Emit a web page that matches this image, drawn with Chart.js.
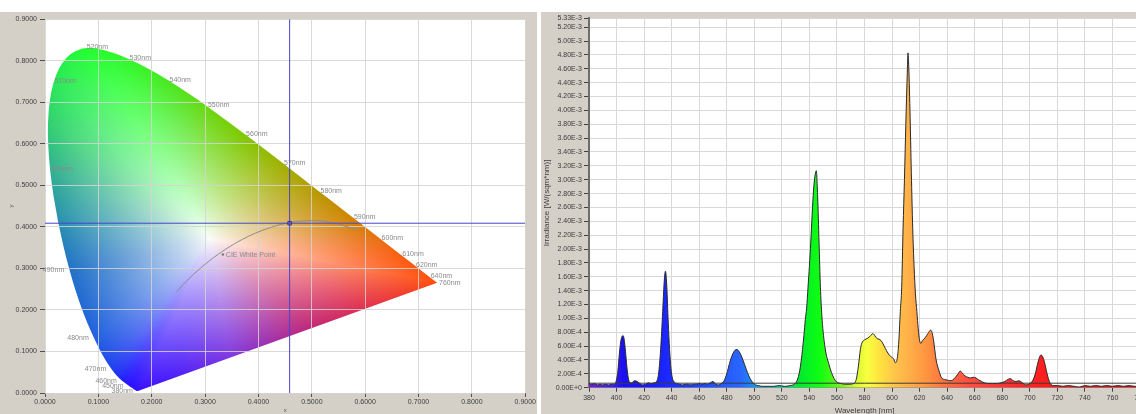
<!DOCTYPE html>
<html>
<head>
<meta charset="utf-8">
<script src="https://cdn.jsdelivr.net/npm/chart.js@4/dist/chart.umd.min.js"></script>
<style>
html, body { margin: 0; padding: 0; background: #fff; width: 1136px; height: 414px; overflow: hidden; }
.panel { position: absolute; top: 12px; height: 402px; background: #d4d0c8; }
#cieBox { left: 0; width: 537px; }
#specBox { left: 541px; width: 620px; }
</style>
</head>
<body>
<div id="cieBox" class="panel"><canvas id="cieChart" width="537" height="402"></canvas></div>
<div id="specBox" class="panel"><canvas id="specChart" width="620" height="402"></canvas></div>
<script>
// ---------- CIE 1931 diagram ----------
const locusWl = [380,385,390,395,400,405,410,415,420,425,430,435,440,445,450,455,460,465,470,475,480,485,490,495,500,505,510,515,520,525,530,535,540,545,550,555,560,565,570,575,580,585,590,595,600,605,610,615,620,625,630,635,640,645,650,660,680,700,760];
const locusX = [0.1741,0.1740,0.1738,0.1736,0.1733,0.1730,0.1726,0.1721,0.1714,0.1703,0.1689,0.1669,0.1644,0.1611,0.1566,0.1510,0.1440,0.1355,0.1241,0.1096,0.0913,0.0687,0.0454,0.0235,0.0082,0.0039,0.0139,0.0389,0.0743,0.1142,0.1547,0.1929,0.2296,0.2658,0.3016,0.3373,0.3731,0.4087,0.4441,0.4788,0.5125,0.5448,0.5752,0.6029,0.6270,0.6482,0.6658,0.6801,0.6915,0.7006,0.7079,0.7140,0.7190,0.7230,0.7260,0.7300,0.7334,0.7347,0.7347];
const locusY = [0.0050,0.0050,0.0049,0.0049,0.0048,0.0048,0.0048,0.0048,0.0051,0.0058,0.0069,0.0086,0.0109,0.0138,0.0177,0.0227,0.0297,0.0399,0.0578,0.0868,0.1327,0.2007,0.2950,0.4127,0.5384,0.6548,0.7502,0.8120,0.8338,0.8262,0.8059,0.7816,0.7543,0.7243,0.6923,0.6589,0.6245,0.5896,0.5547,0.5202,0.4866,0.4544,0.4242,0.3965,0.3725,0.3514,0.3340,0.3197,0.3083,0.2993,0.2920,0.2859,0.2809,0.2770,0.2740,0.2700,0.2666,0.2653,0.2653];
const labelWl = [380,450,460,470,480,490,500,510,520,530,540,550,560,570,580,590,600,610,620,640,760];

const planckX = [0.2470,0.2501,0.2565,0.2637,0.2719,0.2807,0.2869,0.2952,0.3064,0.3135,0.3221,0.3325,0.3451,0.3608,0.3805,0.4053,0.4369,0.4476,0.4770,0.5267,0.5857];
const planckY = [0.2446,0.2489,0.2577,0.2675,0.2778,0.2884,0.2956,0.3048,0.3166,0.3237,0.3318,0.3411,0.3516,0.3636,0.3768,0.3907,0.4041,0.4074,0.4137,0.4133,0.3931];

const whitePoint = { x: 0.3333, y: 0.3333 };
const crossX = 0.4584;
const crossY = 0.4088;
const cieTicks = [0, 0.1, 0.2, 0.3, 0.4, 0.5, 0.6, 0.7, 0.8, 0.9];

// colour look of the diagram (border colours, purple line, white centre)
const edgeWl = [380,450,460,470,480,490,495,500,505,510,520,530,540,550,560,570,580,590,600,610,620,640,760];
const edgeColor = ['#3a10ff','#2a10ff','#2020ff','#2040f0','#2060e0','#2070c8','#2890b0','#30b090','#30d070','#28e858','#20ff30','#30f828','#48e820','#68d810','#80c800','#a0b000','#b89800','#d08400','#e87010','#f86010','#ff5810','#ff5010','#ff4c10'];
const purpleU = [0, 0.24, 0.42, 0.69, 0.865, 1];
const purpleColor = ['#ff4c10','#e03050','#c02878','#8038e0','#5020f8','#3a10ff'];
const diagramWhite = [0.31, 0.37];

// ---------- spectrum ----------
const wavelength = [380,382,384,386,388,390,392,394,396,398,399.5,401,402,403,404,404.8,405.5,406.5,407.5,408.5,409.5,411,413,415,417,419,421,423,425,427,429,430.5,432,433.5,434.5,435.5,436.5,437.5,438.5,439.5,440.5,442,444,446,448,450,452,454,456,458,460,462,464,466,468,470,472,474,476,478,480,482,484,486,487.5,489,491,493,495,497,499,501,503,506,510,514,518,522,526,529,531,532,533,534,535,536,537,538,539,540,541,542,543,544,545,546,547,548,549,550,552,554,556,558,560,563,566,569,572,574,575.5,577,578,580,582,584,586,587.5,589,590.5,592,593.5,595,597,599,601,602.5,604,605,606,607,608,609,610,611,611.6,612,613,614,615,616,617,618,619,620,621,622,624,626,628,629,630,632,634,636,638,640,642,644,646,648,649.5,651,653,655,657,659,661,663,665,667,670,673,676,679,682,684,686,688,690,692,694,696,698,700,702,704,706,708,709,710.5,712,713.5,715,717,720,724,728,732,736,740,744,748,752,756,760,764,768,772,776,780];
const irradiance = [6e-5,5e-5,6e-5,4e-5,5e-5,4e-5,5e-5,4e-5,5e-5,5e-5,8e-5,2.5e-4,4.8e-4,6.6e-4,7.4e-4,7.5e-4,7.0e-4,5.2e-4,3.0e-4,1.4e-4,8e-5,7e-5,1.0e-4,9e-5,6e-5,4e-5,5e-5,7e-5,6e-5,7e-5,9e-5,2.0e-4,5.5e-4,1.10e-3,1.50e-3,1.68e-3,1.45e-3,9.5e-4,5.5e-4,2.8e-4,1.4e-4,8e-5,6e-5,5e-5,4e-5,5e-5,5e-5,4e-5,5e-5,5e-5,6e-5,5e-5,6e-5,5e-5,7e-5,9e-5,5e-5,4e-5,6e-5,1.0e-4,2.0e-4,3.5e-4,4.7e-4,5.4e-4,5.5e-4,5.2e-4,4.4e-4,3.3e-4,2.2e-4,1.3e-4,7e-5,4e-5,3e-5,2e-5,2e-5,2e-5,3e-5,2e-5,3e-5,5e-5,1.0e-4,1.6e-4,2.5e-4,3.8e-4,5.5e-4,7.5e-4,9.8e-4,1.15e-3,1.45e-3,1.75e-3,2.10e-3,2.50e-3,2.85e-3,3.05e-3,3.13e-3,2.75e-3,2.10e-3,1.45e-3,1.05e-3,8.0e-4,5.0e-4,3.5e-4,2.2e-4,1.3e-4,8e-5,6e-5,5e-5,5e-5,6e-5,1.2e-4,3.0e-4,5.5e-4,6.4e-4,6.9e-4,7.1e-4,7.4e-4,7.8e-4,7.5e-4,7.1e-4,7.0e-4,6.8e-4,6.3e-4,5.7e-4,5.0e-4,4.5e-4,4.2e-4,3.6e-4,4.5e-4,7.0e-4,1.10e-3,1.45e-3,2.30e-3,3.00e-3,3.80e-3,4.50e-3,4.83e-3,4.70e-3,4.00e-3,3.10e-3,2.30e-3,1.75e-3,1.35e-3,1.10e-3,8.5e-4,6.8e-4,6.4e-4,6.8e-4,7.2e-4,7.8e-4,8.3e-4,8.0e-4,7.0e-4,4.0e-4,2.5e-4,1.4e-4,1.2e-4,1.1e-4,1.0e-4,1.1e-4,1.5e-4,2.0e-4,2.4e-4,2.1e-4,1.7e-4,1.5e-4,1.4e-4,1.5e-4,1.4e-4,1.1e-4,9e-5,7e-5,6e-5,6e-5,6e-5,7e-5,9e-5,1.2e-4,1.3e-4,1.0e-4,9e-5,1.0e-4,8e-5,5e-5,4e-5,6e-5,1.0e-4,2.0e-4,3.7e-4,4.7e-4,4.6e-4,3.8e-4,2.5e-4,1.3e-4,6e-5,3e-5,3e-5,2e-5,3e-5,2e-5,1e-5,3e-5,2e-5,3e-5,2e-5,3e-5,2e-5,3e-5,2e-5,3e-5,2e-5,2e-5];
const thresholdLevel = 6.5e-5;
const wlTicks = [380,400,420,440,460,480,500,520,540,560,580,600,620,640,660,680,700,720,740,760,780];
const irrTicks = [0,2e-4,4e-4,6e-4,8e-4,1e-3,1.2e-3,1.4e-3,1.6e-3,1.8e-3,2e-3,2.2e-3,2.4e-3,2.6e-3,2.8e-3,3e-3,3.2e-3,3.4e-3,3.6e-3,3.8e-3,4e-3,4.2e-3,4.4e-3,4.6e-3,4.8e-3,5e-3,5.2e-3,5.33e-3];

const gradWl = [380,395,405,430,470,490,505,520,532,548,562,574,582,592,602,612,625,640,655,680,705,780];
const gradColor = ['#7020d0','#4020f0','#1a10f0','#1a20ff','#2050ff','#2a66ff','#10a8f0','#00d890','#00e830','#10ff10','#70f020','#d8f830','#f8ff40','#ffe040','#ffc44a','#ffb048','#ff9440','#ff6c40','#ff5040','#ff3434','#ff2020','#e01010'];

// ---------- helpers ----------
const hex = h => [parseInt(h.slice(1, 3), 16), parseInt(h.slice(3, 5), 16), parseInt(h.slice(5, 7), 16)];
const mix = (a, b, t) => [a[0] + (b[0] - a[0]) * t, a[1] + (b[1] - a[1]) * t, a[2] + (b[2] - a[2]) * t];
function colorAt(xs, cs, v) {
  if (v <= xs[0]) return hex(cs[0]);
  for (let i = 1; i < xs.length; i++) {
    if (v <= xs[i]) return mix(hex(cs[i - 1]), hex(cs[i]), (v - xs[i - 1]) / (xs[i] - xs[i - 1]));
  }
  return hex(cs[cs.length - 1]);
}
const tickFont = { family: 'Liberation Sans', size: 7 };

// border polygon (chromaticity units) with a colour on every vertex
const verts = locusWl.map((wl, i) => ({ x: locusX[i], y: locusY[i], c: colorAt(edgeWl, edgeColor, wl) }));
const tip = verts[verts.length - 1], start = verts[0];
purpleU.slice(1, -1).forEach((u, j) => {
  verts.push({ x: tip.x + u * (start.x - tip.x), y: tip.y + u * (start.y - tip.y), c: hex(purpleColor[j + 1]) });
});

const RAYS = 2048;
const rayLen = new Float32Array(RAYS);
const rayCol = [];
for (let k = 0; k < RAYS; k++) {
  const th = (k + 0.5) / RAYS * 2 * Math.PI - Math.PI;
  const dx = Math.cos(th), dy = Math.sin(th);
  rayCol[k] = [255, 255, 255];
  for (let i = 0; i < verts.length; i++) {
    const a = verts[i], b = verts[(i + 1) % verts.length];
    const ex = b.x - a.x, ey = b.y - a.y;
    const den = dx * ey - dy * ex;
    if (Math.abs(den) < 1e-12) continue;
    const wx = a.x - diagramWhite[0], wy = a.y - diagramWhite[1];
    const t = (wx * ey - wy * ex) / den;
    const u = (wx * dy - wy * dx) / den;
    if (t > 0 && u >= 0 && u <= 1) { rayLen[k] = t; rayCol[k] = mix(a.c, b.c, u); break; }
  }
}

const LOCUS = 5;
const cieBackground = {
  id: 'cieBackground',
  beforeDraw(chart) {
    const { ctx, chartArea: a, scales } = chart;
    ctx.save();
    ctx.fillStyle = '#ffffff';
    ctx.fillRect(a.left, a.top, a.right - a.left, a.bottom - a.top);
    const w = Math.ceil(a.right - a.left), h = Math.ceil(a.bottom - a.top);
    const off = document.createElement('canvas');
    off.width = w; off.height = h;
    const octx = off.getContext('2d');
    const img = octx.createImageData(w, h);
    const cols = [], rows = [];
    for (let i = 0; i < w; i++) cols.push(scales.x.getValueForPixel(a.left + i + 0.5));
    for (let j = 0; j < h; j++) rows.push(scales.y.getValueForPixel(a.top + j + 0.5));
    const white = [252, 253, 250];
    for (let j = 0; j < h; j++) {
      for (let i = 0; i < w; i++) {
        const dx = cols[i] - diagramWhite[0], dy = rows[j] - diagramWhite[1];
        let k = Math.floor((Math.atan2(dy, dx) + Math.PI) / (2 * Math.PI) * RAYS);
        if (k >= RAYS) k = RAYS - 1;
        const s = Math.min(1, Math.hypot(dx, dy) / (rayLen[k] || 1));
        const c = mix(white, rayCol[k], Math.pow(s, 0.85));
        const p = (j * w + i) * 4;
        img.data[p] = c[0]; img.data[p + 1] = c[1]; img.data[p + 2] = c[2]; img.data[p + 3] = 255;
      }
    }
    octx.putImageData(img, 0, 0);
    // smooth outline through the locus points, straight line of purples
    const pts = chart.getDatasetMeta(LOCUS).data;
    ctx.beginPath();
    ctx.moveTo(pts[0].x, pts[0].y);
    for (let i = 1; i < pts.length - 1; i++) {
      const mx = (pts[i].x + pts[i + 1].x) / 2, my = (pts[i].y + pts[i + 1].y) / 2;
      ctx.quadraticCurveTo(pts[i].x, pts[i].y, mx, my);
    }
    ctx.lineTo(pts[pts.length - 1].x, pts[pts.length - 1].y);
    ctx.closePath();
    ctx.clip();
    ctx.drawImage(off, a.left, a.top);
    ctx.restore();
  }
};

const cieLabels = {
  id: 'cieLabels',
  afterDatasetsDraw(chart) {
    const { ctx } = chart;
    const pts = chart.getDatasetMeta(LOCUS).data;
    ctx.save();
    ctx.font = '7px "Liberation Sans"';
    ctx.fillStyle = '#8a8a8a';
    ctx.textBaseline = 'middle';
    labelWl.forEach(wl => {
      const p = pts[locusWl.indexOf(wl)];
      if (wl <= 490) { ctx.textAlign = 'right'; ctx.fillText(wl + 'nm', p.x - 5, p.y); }
      else { ctx.textAlign = 'left'; ctx.fillText(wl + 'nm', p.x + 2, p.y); }
    });
    const wp = chart.getDatasetMeta(3).data[0];
    ctx.textAlign = 'left';
    ctx.fillText('CIE White Point', wp.x + 3, wp.y);
    ctx.restore();
  }
};

new Chart(document.getElementById('cieChart'), {
  type: 'scatter',
  data: {
    datasets: [
      { data: [{ x: crossX, y: crossY }], pointStyle: 'rect', pointRadius: 2.5, borderColor: '#3030b0', backgroundColor: 'rgba(0,0,0,0)', borderWidth: 1 },
      { data: [{ x: crossX, y: 0 }, { x: crossX, y: 0.9 }], showLine: true, pointRadius: 0, borderColor: '#4646c8', borderWidth: 1 },
      { data: [{ x: 0, y: crossY }, { x: 0.9, y: crossY }], showLine: true, pointRadius: 0, borderColor: '#4646c8', borderWidth: 1 },
      { data: [whitePoint], pointRadius: 1.2, backgroundColor: '#777', borderWidth: 0 },
      { data: planckX.map((x, i) => ({ x, y: planckY[i] })), showLine: true, pointRadius: 0, borderColor: '#8c8c8c', borderWidth: 1, tension: 0.3 },
      { data: locusX.map((x, i) => ({ x, y: locusY[i] })), showLine: false, pointRadius: 0, borderWidth: 0 }
    ]
  },
  options: {
    responsive: false,
    animation: false,
    layout: { padding: { left: 0, top: 4, right: 9, bottom: 0 } },
    plugins: { legend: { display: false }, tooltip: { enabled: false } },
    scales: {
      x: {
        type: 'linear', min: 0, max: 0.9,
        afterBuildTicks: s => { s.ticks = cieTicks.map(v => ({ value: v })); },
        afterFit: s => { s.height = 21; },
        ticks: { callback: v => v.toFixed(4), font: tickFont, color: '#404040', padding: 1, maxRotation: 0, autoSkip: false },
        grid: { color: 'rgba(212,212,212,0.85)', tickColor: '#505050', tickLength: 4 },
        border: { display: false },
        title: { display: true, text: 'x', font: { family: 'Liberation Sans', size: 6 }, color: '#555', padding: { top: 0, bottom: 0 } }
      },
      y: {
        type: 'linear', min: 0, max: 0.9,
        afterBuildTicks: s => { s.ticks = cieTicks.map(v => ({ value: v })); },
        afterFit: s => { s.width = 45; },
        ticks: { callback: v => v.toFixed(4), font: tickFont, color: '#404040', padding: 3, autoSkip: false },
        grid: { color: 'rgba(212,212,212,0.85)', tickColor: '#505050', tickLength: 5 },
        border: { display: false },
        title: { display: true, text: 'y', font: { family: 'Liberation Sans', size: 6 }, color: '#555', padding: { top: 8, bottom: 0 } }
      }
    }
  },
  plugins: [cieBackground, cieLabels]
});

// ---------- spectrum chart ----------
const plotBackground = {
  id: 'plotBackground',
  beforeDraw(chart) {
    const { ctx, chartArea: a } = chart;
    ctx.save();
    ctx.fillStyle = '#ffffff';
    ctx.fillRect(a.left, a.top, a.right - a.left, a.bottom - a.top);
    ctx.restore();
  }
};

function spectrumFill(context) {
  const { chart } = context;
  const { chartArea, scales } = chart;
  if (!chartArea) return 'rgba(0,0,255,0.5)';
  const x0 = scales.x.getPixelForValue(gradWl[0]);
  const x1 = scales.x.getPixelForValue(gradWl[gradWl.length - 1]);
  const g = chart.ctx.createLinearGradient(x0, 0, x1, 0);
  gradWl.forEach((wl, i) => g.addColorStop((scales.x.getPixelForValue(wl) - x0) / (x1 - x0), gradColor[i]));
  return g;
}

new Chart(document.getElementById('specChart'), {
  type: 'scatter',
  data: {
    datasets: [
      { data: [{ x: 380, y: thresholdLevel }, { x: 780, y: thresholdLevel }], showLine: true, pointRadius: 0, borderColor: '#3a3a3a', borderWidth: 1 },
      {
        data: wavelength.map((x, i) => ({ x, y: irradiance[i] })),
        showLine: true, pointRadius: 0, borderColor: '#2a2a2a', borderWidth: 1,
        fill: 'origin', backgroundColor: spectrumFill, cubicInterpolationMode: 'monotone'
      }
    ]
  },
  options: {
    responsive: false,
    animation: false,
    layout: { padding: { left: 0, top: 4.7, right: 21, bottom: 0 } },
    plugins: { legend: { display: false }, tooltip: { enabled: false } },
    scales: {
      x: {
        type: 'linear', min: 380, max: 780,
        afterBuildTicks: s => { s.ticks = wlTicks.map(v => ({ value: v })); },
        afterFit: s => { s.height = 26.3; },
        ticks: { font: tickFont, color: '#3a3a3a', padding: 2, maxRotation: 0, autoSkip: false },
        grid: { color: '#d8d8d8', tickColor: '#404040', tickLength: 4 },
        border: { color: '#909090' },
        title: { display: true, text: 'Wavelength [nm]', font: { family: 'Liberation Sans', size: 8 }, color: '#404040', padding: { top: 0, bottom: -2 } }
      },
      y: {
        type: 'linear', min: 0, max: 5.33e-3,
        afterBuildTicks: s => { s.ticks = irrTicks.map(v => ({ value: v })); },
        afterFit: s => { s.width = 48; },
        ticks: { callback: v => v.toExponential(2).toUpperCase(), font: tickFont, color: '#3a3a3a', padding: 2, autoSkip: false },
        grid: { color: '#d8d8d8', tickColor: '#404040', tickLength: 5 },
        border: { color: '#6e6e6e', width: 2 },
        title: { display: true, text: 'Irradiance [W/(sqm*nm)]', font: { family: 'Liberation Sans', size: 8 }, color: '#404040', padding: { top: 1, bottom: 0 } }
      }
    }
  },
  plugins: [plotBackground]
});
</script>
</body>
</html>
